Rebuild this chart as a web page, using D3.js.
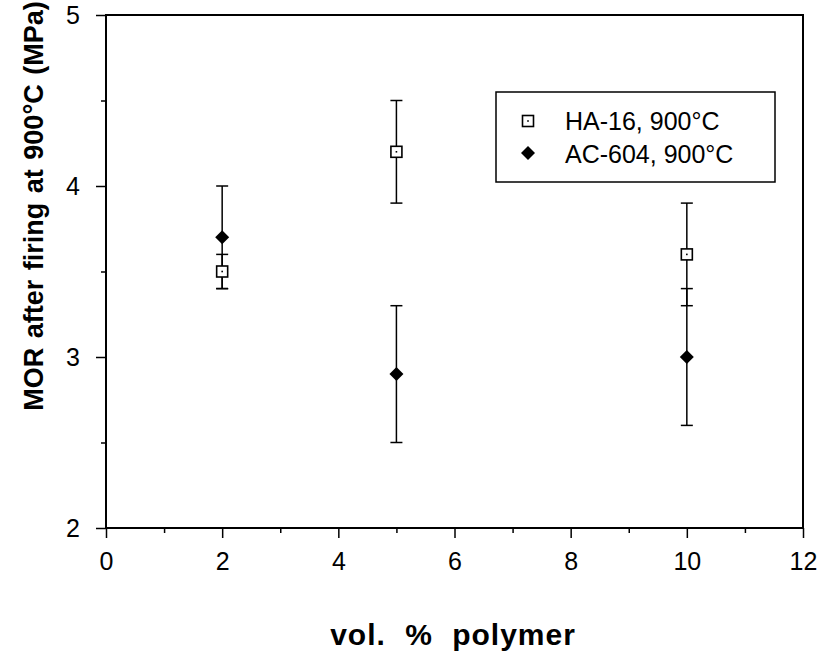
<!DOCTYPE html>
<html>
<head>
<meta charset="utf-8">
<script src="https://cdn.jsdelivr.net/npm/d3@7"></script>
<style>
  body { margin: 0; background: #fff; }
  text { font-family: "Liberation Sans", Arial, sans-serif; fill: #000; }
</style>
</head>
<body>
<script>
// vol. % polymer
var polymer = [2, 5, 10];

// HA-16, 900°C (open squares)
var ha16Mean = [3.5, 4.2, 3.6];
var ha16Err = [0.1, 0.3, 0.3];

// AC-604, 900°C (filled diamonds)
var ac604Mean = [3.7, 2.9, 3.0];
var ac604Err = [0.3, 0.4, 0.4];

var xTicks = [0, 2, 4, 6, 8, 10, 12];
var yTicks = [2, 3, 4, 5];
var legendLabels = ['HA-16, 900°C', 'AC-604, 900°C'];

var width = 821, height = 655;
var plotLeft = 106, plotRight = 803, plotTop = 15, plotBottom = 528;

var svg = d3.select('body').append('svg')
    .attr('width', width)
    .attr('height', height);

var x = d3.scaleLinear().domain([0, 12]).range([plotLeft, plotRight]);
var y = d3.scaleLinear().domain([2, 5]).range([plotBottom, plotTop]);

// frame
svg.append('rect')
    .attr('x', plotLeft).attr('y', plotTop)
    .attr('width', plotRight - plotLeft).attr('height', plotBottom - plotTop)
    .attr('fill', 'none').attr('stroke', '#000').attr('stroke-width', 2);

// x axis, major + minor ticks
svg.append('g')
    .attr('transform', 'translate(0,' + plotBottom + ')')
    .call(d3.axisBottom(x).tickValues(d3.range(1, 12, 2)).tickSize(5).tickFormat(''))
    .call(function(g) { g.select('.domain').remove(); });

var xAxis = svg.append('g')
    .attr('transform', 'translate(0,' + plotBottom + ')')
    .call(d3.axisBottom(x).tickValues(xTicks).tickSize(10).tickPadding(14).tickFormat(d3.format('d')));
xAxis.select('.domain').remove();
xAxis.selectAll('text').attr('font-size', 25).attr('fill', '#000');

// y axis, major + minor ticks
svg.append('g')
    .attr('transform', 'translate(' + plotLeft + ',0)')
    .call(d3.axisLeft(y).tickValues([2.5, 3.5, 4.5]).tickSize(5).tickFormat(''))
    .call(function(g) { g.select('.domain').remove(); });

var yAxis = svg.append('g')
    .attr('transform', 'translate(' + plotLeft + ',0)')
    .call(d3.axisLeft(y).tickValues(yTicks).tickSize(10).tickPadding(16).tickFormat(d3.format('d')));
yAxis.select('.domain').remove();
yAxis.selectAll('text').attr('font-size', 25).attr('fill', '#000');

svg.selectAll('.tick line').attr('stroke', '#000').attr('stroke-width', 1.5);

// axis titles
svg.append('text')
    .attr('x', 453).attr('y', 645)
    .attr('text-anchor', 'middle')
    .attr('font-size', 30).attr('font-weight', 'bold')
    .attr('letter-spacing', 1).attr('word-spacing', 10)
    .text('vol. % polymer');

svg.append('text')
    .attr('transform', 'translate(43,206) rotate(-90)')
    .attr('text-anchor', 'middle')
    .attr('font-size', 27).attr('font-weight', 'bold')
    .attr('word-spacing', 2)
    .text('MOR after firing at 900°C (MPa)');

function errorBars(mean, err) {
    var g = svg.append('g').attr('stroke', '#000').attr('stroke-width', 1.5);
    polymer.forEach(function(p, i) {
        var cx = x(p);
        var hi = y(mean[i] + err[i]), lo = y(mean[i] - err[i]);
        g.append('line').attr('x1', cx).attr('x2', cx).attr('y1', hi).attr('y2', lo);
        g.append('line').attr('x1', cx - 6).attr('x2', cx + 6).attr('y1', hi).attr('y2', hi);
        g.append('line').attr('x1', cx - 6).attr('x2', cx + 6).attr('y1', lo).attr('y2', lo);
    });
}

errorBars(ac604Mean, ac604Err);
errorBars(ha16Mean, ha16Err);

function squareMarker(g, cx, cy) {
    g.append('rect')
        .attr('x', cx - 5.5).attr('y', cy - 5.5)
        .attr('width', 11).attr('height', 11)
        .attr('fill', '#fff').attr('stroke', '#000').attr('stroke-width', 1.6);
    g.append('rect')
        .attr('x', cx - 0.8).attr('y', cy - 0.8)
        .attr('width', 1.6).attr('height', 1.6)
        .attr('fill', '#000');
}

function diamondMarker(g, cx, cy) {
    g.append('path')
        .attr('d', 'M' + cx + ',' + (cy - 7) + 'L' + (cx + 7) + ',' + cy +
              'L' + cx + ',' + (cy + 7) + 'L' + (cx - 7) + ',' + cy + 'Z')
        .attr('fill', '#000');
}

var marks = svg.append('g');
polymer.forEach(function(p, i) {
    diamondMarker(marks, x(p), y(ac604Mean[i]));
    squareMarker(marks, x(p), y(ha16Mean[i]));
});

// legend
var legend = svg.append('g');
legend.append('rect')
    .attr('x', 496).attr('y', 92)
    .attr('width', 279).attr('height', 90)
    .attr('fill', '#fff').attr('stroke', '#000').attr('stroke-width', 1.5);
squareMarker(legend, 528, 121);
diamondMarker(legend, 528, 153);
legend.selectAll('text.lab')
    .data(legendLabels)
    .enter().append('text')
    .attr('class', 'lab')
    .attr('x', 565)
    .attr('y', function(d, i) { return 130 + i * 33; })
    .attr('font-size', 25)
    .text(function(d) { return d; });
</script>
</body>
</html>
